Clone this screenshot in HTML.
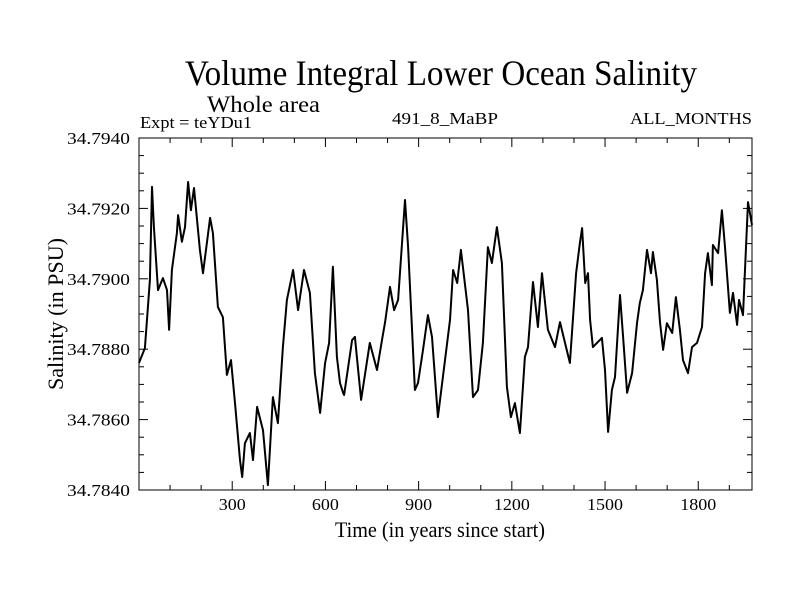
<!DOCTYPE html>
<html><head><meta charset="utf-8"><style>
html,body{margin:0;padding:0;background:#fff;}
svg text{font-family:"Liberation Serif",serif;fill:#000;}
</style></head><body>
<svg id="chart" width="800" height="600" xmlns="http://www.w3.org/2000/svg">
<text x="185" y="85" font-size="36" textLength="512" lengthAdjust="spacingAndGlyphs">Volume Integral Lower Ocean Salinity</text>
<text x="207" y="112" font-size="23" textLength="113" lengthAdjust="spacingAndGlyphs">Whole area</text>
<text x="140" y="128" font-size="17" textLength="112" lengthAdjust="spacingAndGlyphs">Expt = teYDu1</text>
<text x="392" y="124" font-size="17" textLength="106" lengthAdjust="spacingAndGlyphs">491_8_MaBP</text>
<text x="630" y="124" font-size="17" textLength="122" lengthAdjust="spacingAndGlyphs">ALL_MONTHS</text>
<text x="335" y="537" font-size="22" textLength="210" lengthAdjust="spacingAndGlyphs">Time (in years since start)</text>
<text transform="translate(63,390) rotate(-90)" font-size="22" textLength="152" lengthAdjust="spacingAndGlyphs">Salinity (in PSU)</text>
<g id="axes"></g>
<path id="series" fill="none" stroke="#000" stroke-width="2" stroke-linejoin="round"></path>
<rect x="139" y="138" width="613" height="352" fill="none" stroke="#000" stroke-width="1"></rect>
</svg>
<script>
const years = [0,19,35,42,48,61,77,90,97,106,122,126,138,148,158,167,177,196,206,229,238,254,270,283,296,309,325,332,341,357,367,380,399,415,431,447,463,476,496,512,531,550,566,583,599,612,624,637,647,657,660,686,695,715,731,743,766,782,792,808,821,834,856,866,888,898,914,930,943,962,985,1001,1011,1024,1036,1059,1075,1091,1107,1123,1136,1152,1168,1184,1197,1210,1226,1242,1252,1268,1284,1297,1307,1316,1339,1355,1371,1387,1407,1419,1426,1436,1445,1452,1461,1490,1500,1510,1522,1532,1548,1558,1571,1587,1603,1612,1622,1635,1648,1654,1667,1677,1687,1699,1716,1728,1741,1751,1767,1780,1796,1812,1822,1831,1844,1847,1864,1876,1886,1902,1912,1925,1931,1944,1960,1973];
const salinity = [34.78761,34.78803,34.78997,34.79261,34.79147,34.78968,34.79002,34.78968,34.78855,34.79025,34.79130,34.79181,34.79105,34.79147,34.79275,34.79195,34.79258,34.79082,34.79016,34.79173,34.79130,34.78920,34.78891,34.78727,34.78769,34.78647,34.78485,34.78437,34.78533,34.78562,34.78485,34.78636,34.78570,34.78414,34.78664,34.78590,34.78806,34.78940,34.79025,34.78911,34.79025,34.78960,34.78732,34.78619,34.78761,34.78818,34.79034,34.78778,34.78704,34.78676,34.78670,34.78826,34.78835,34.78656,34.78749,34.78818,34.78741,34.78826,34.78877,34.78977,34.78911,34.78940,34.79224,34.79090,34.78684,34.78704,34.78798,34.78897,34.78835,34.78607,34.78769,34.78883,34.79025,34.78988,34.79082,34.78911,34.78664,34.78684,34.78818,34.79090,34.79045,34.79147,34.79045,34.78693,34.78607,34.78647,34.78562,34.78778,34.78806,34.78991,34.78863,34.79016,34.78931,34.78855,34.78806,34.78877,34.78818,34.78761,34.79016,34.79102,34.79144,34.78988,34.79016,34.78883,34.78806,34.78832,34.78741,34.78565,34.78684,34.78721,34.78954,34.78835,34.78676,34.78732,34.78874,34.78931,34.78968,34.79082,34.79016,34.79076,34.78997,34.78877,34.78798,34.78874,34.78846,34.78948,34.78855,34.78769,34.78732,34.78806,34.78818,34.78863,34.79016,34.79073,34.78982,34.79096,34.79073,34.79195,34.79090,34.78903,34.78960,34.78869,34.78940,34.78897,34.79218,34.79153];
const xTickLabels = [300,600,900,1200,1500,1800];
const yTickLabels = ["34.7840","34.7860","34.7880","34.7900","34.7920","34.7940"];

const L=139,R=752,T=138,B=490,X0=0,X1=1973,Y0=34.784,Y1=34.794;
function xs(v){return L+(v-X0)/(X1-X0)*(R-L);}
function ys(v){return B-(v-Y0)/(Y1-Y0)*(B-T);}
const NS='http://www.w3.org/2000/svg';
const ax=document.getElementById('axes');
function line(x1,y1,x2,y2,name){const l=document.createElementNS(NS,'line');
l.setAttribute('x1',x1);l.setAttribute('y1',y1);l.setAttribute('x2',x2);l.setAttribute('y2',y2);
l.setAttribute('stroke','#000');l.setAttribute('stroke-width','1');


ax.appendChild(l);}
function txt(x,y,s,anchor,w,name){const t=document.createElementNS(NS,'text');
t.setAttribute('x',x);t.setAttribute('y',y);t.setAttribute('font-size','17');t.setAttribute('text-anchor',anchor);
t.setAttribute('textLength',w);t.setAttribute('lengthAdjust','spacingAndGlyphs');t.textContent=s;


ax.appendChild(t);}
for(let yr=100;yr<X1;yr+=100){const x=xs(yr);const len=(yr%300===0)?9:5;
line(x,B,x,B-len,'x-tick');line(x,T,x,T+len,'x-tick-top');}
xTickLabels.forEach(v=>txt(xs(v),510,String(v),'middle',String(v).length*9,'x-tick-label'));
for(let k=0;k<=20;k++){const v=Y0+k*0.0005;const y=ys(v);const len=(k%4===0)?9:5;
line(L,y,L+len,y,'y-tick');line(R,y,R-len,y,'y-tick-right');}
yTickLabels.forEach(s=>txt(130,ys(parseFloat(s))+6,s,'end',63,'y-tick-label'));
let d='';years.forEach((yr,i)=>{d+=(i?'L':'M')+xs(yr).toFixed(1)+','+ys(salinity[i]).toFixed(1);});
document.getElementById('series').setAttribute('d',d);
</script>
</body></html>
